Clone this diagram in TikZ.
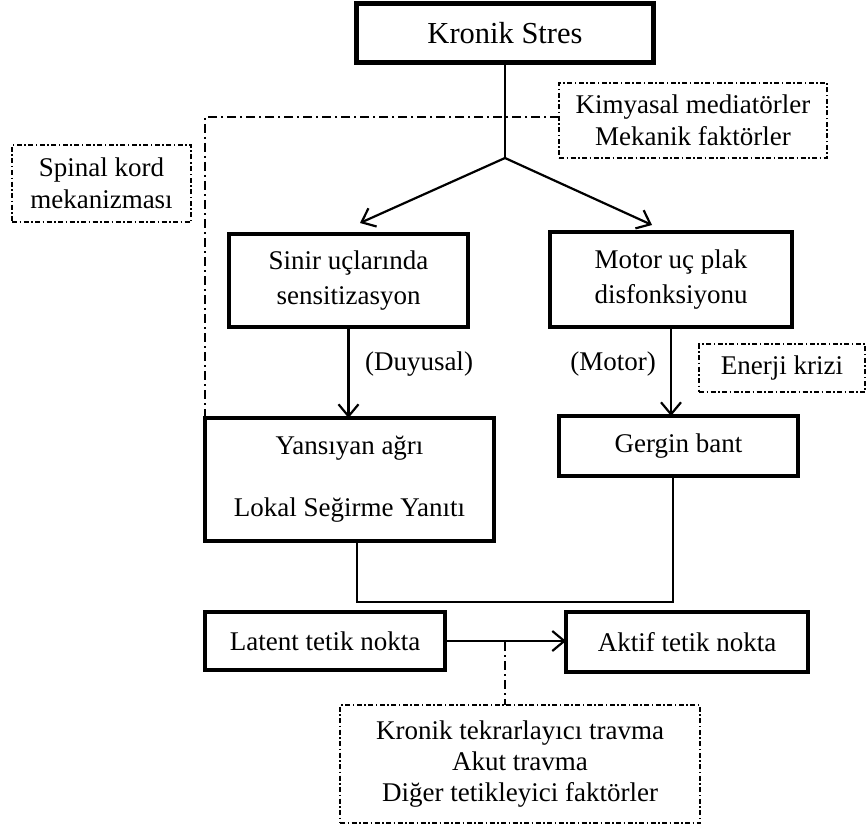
\documentclass[tikz,border=0pt]{standalone}
\usepackage{fontspec}
\setmainfont{Liberation Serif}
\usetikzlibrary{arrows.meta,calc}
\begin{document}
\begin{tikzpicture}[x=1pt,y=-1pt,
  every node/.style={inner sep=0pt,outer sep=0pt,align=center,font=\fontsize{27}{32}\selectfont},
  mainbox/.style={draw,line width=4.5pt,rectangle},
  notebox/.style={draw,line width=1.3pt,rectangle,dash pattern=on 5pt off 2.5pt on 1.5pt off 2.5pt},
  conn/.style={line width=2.2pt},
  arr/.style={conn,-{Straight Barb[length=12pt,width=20pt,line width=2.2pt]}},
  ddline/.style={line width=1.3pt,dash pattern=on 9pt off 4pt on 2pt off 4pt}]
\useasboundingbox (0,0) rectangle (866,829);

\node[mainbox,minimum width=297pt,minimum height=59pt,font=\fontsize{30.5}{36}\selectfont] (kronik) at (505,33) {Kronik Stres};
\node[notebox,minimum width=268pt,minimum height=75pt] (kim) at (693,120.5) {Kimyasal mediatörler\\Mekanik faktörler};
\node[notebox,minimum width=179pt,minimum height=77pt] (spinal) at (101.5,183.5) {Spinal kord\\mekanizması};
\node[mainbox,minimum width=239pt,minimum height=93pt,font=\fontsize{27}{35}\selectfont] (sinir) at (348.5,280.5) {Sinir uçlarında\\sensitizasyon};
\node[mainbox,minimum width=242pt,minimum height=95pt,font=\fontsize{27}{35}\selectfont] (motor) at (671,279.5) {Motor uç plak\\disfonksiyonu};
\node[notebox,minimum width=166pt,minimum height=48pt] (enerji) at (782,368) {Enerji krizi};
\node (duy) at (419,364) {(Duyusal)};
\node (mot) at (613,364) {(Motor)};
\node[mainbox,minimum width=289pt,minimum height=123pt] (yans) at (349.5,479.5) {Yansıyan ağrı\\[30pt]Lokal Seğirme Yanıtı};
\node[mainbox,minimum width=239pt,minimum height=60pt] (gergin) at (678.5,446) {Gergin bant};
\node[mainbox,minimum width=240pt,minimum height=58pt] (latent) at (325,641) {Latent tetik nokta};
\node[mainbox,minimum width=242pt,minimum height=60pt] (aktif) at (687,642) {Aktif tetik nokta};
\node[notebox,minimum width=360pt,minimum height=118pt,font=\fontsize{27}{31}\selectfont] (travma) at (520,764) {Kronik tekrarlayıcı travma\\Akut travma\\Diğer tetikleyici faktörler};

\coordinate (split) at (505,158);
\coordinate (jn) at (357,602);
\coordinate (trig) at (505,642);

% dash-dot spinal line
\draw[ddline] ([yshift=3.5pt]kim.west) -| (yans.north west);
% main flow
\draw[conn] (kronik.south) -- (split);
\draw[arr] (split) -- ($(sinir.north)+(11.5,-11)$);
\draw[arr] (split) -- ($(motor.north)+(-19,-7)$);
\draw[arr] (sinir.south) -- (sinir.south |- yans.north);
\draw[arr] (motor.south) -- (motor.south |- gergin.north);
\draw[conn] ([xshift=7.5pt]yans.south) |- (jn) -| ([xshift=-5.5pt]gergin.south);
\draw[arr] (latent.east) -- (latent.east -| aktif.west);
\draw[ddline] (trig) -- (trig |- travma.north);
\end{tikzpicture}
\end{document}
